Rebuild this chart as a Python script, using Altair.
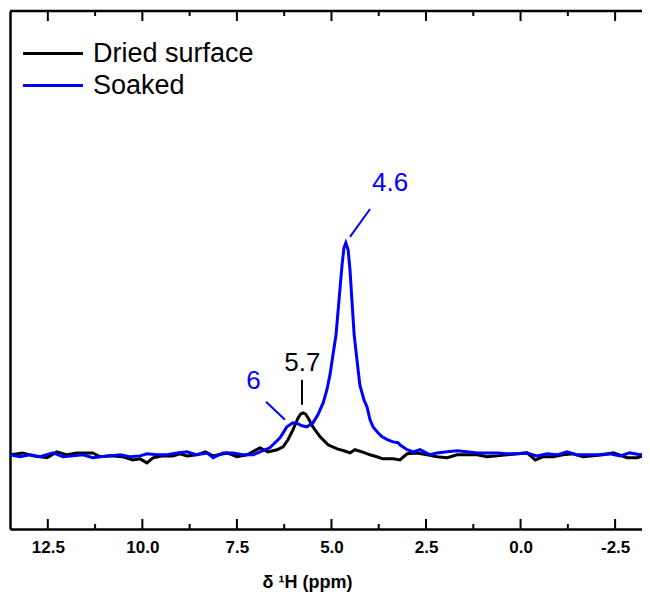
import altair as alt
import pandas as pd

# ---- data (ppm, intensity in a.u.; Soaked peak = 100) ----
dried_ppm = [13.50, 13.16, 12.89, 12.52, 12.26, 11.99, 11.73, 11.57, 11.31, 11.12, 10.86, 10.51,
             10.25, 10.06, 9.88, 9.72, 9.45, 9.19, 9.01, 8.82, 8.56, 8.34, 8.13, 7.76, 7.50, 7.23,
             6.89, 6.68, 6.44, 6.28, 6.15, 6.02, 5.88, 5.81, 5.75, 5.69, 5.62, 5.49, 5.30, 5.09, 4.85,
             4.67, 4.51, 4.38, 4.19, 3.98, 3.80, 3.64, 3.37, 3.19, 3.00, 2.74, 2.47, 2.21, 1.94,
             1.68, 1.42, 1.15, 0.89, 0.62, 0.36, 0.09, -0.17, -0.39, -0.60, -0.86, -1.12, -1.39,
             -1.65, -1.92, -2.18, -2.45, -2.82, -3.08, -3.34, -3.50]
dried_int = [0, 0.9, -0.5, -1.4, 1.4, 0, 0.9, 0.9, 0.9, -0.9, -0.5, -0.9,
             -2.4, -1.9, -3.8, -1.4, -0.5, -0.5, 0.5, -0.5, 0, 1.4, -0.5, 0.9, -0.9, 0,
             3.3, 1.4, 2.4, 3.8, 7.1, 11.8, 17.5, 19.3, 19.8, 19.3, 17.5, 13.2, 8.5, 4.7, 2.8,
             1.9, 0.9, 2.4, 1.4, 0, -0.9, -1.9, -1.9, -2.4, 0.5, 0.9, 0, -0.9, -1.4,
             0, 0, 0, -0.9, -0.5, 0, 0.5, 0.9, -2.4, -0.9, -0.9, 0, 0.5,
             -0.9, -0.5, 0, 0.9, -1.4, -1.4, 0, 0]

soaked_ppm = [13.50, 13.24, 12.97, 12.71, 12.36, 12.10, 11.83, 11.57, 11.31, 11.12, 10.86, 10.59,
              10.33, 10.06, 9.88, 9.61, 9.35, 9.08, 8.82, 8.56, 8.29, 8.13, 7.87, 7.60, 7.34, 7.07,
              6.89, 6.63, 6.36, 6.18, 6.02, 5.88, 5.78, 5.65, 5.49, 5.36, 5.22, 5.12, 5.04, 4.96,
              4.88, 4.80, 4.72, 4.67, 4.62, 4.56, 4.51, 4.46, 4.40, 4.32, 4.25, 4.14, 4.06, 3.98,
              3.90, 3.77, 3.66, 3.51, 3.37, 3.24, 3.19, 3.00, 2.84, 2.66, 2.39, 2.21, 1.94, 1.68,
              1.42, 1.15, 0.89, 0.62, 0.36, 0.09, -0.17, -0.43, -0.70, -0.96, -1.23, -1.49, -1.76,
              -2.02, -2.36, -2.63, -2.89, -3.16, -3.42, -3.50]
soaked_int = [0, -0.9, 0, -0.9, 0.9, -0.9, -0.5, 0, -1.4, -0.9, -0.5, 0,
              -0.9, -0.5, 0.5, 0, 0, 0.9, 1.4, 0, 0.9, -1.4, 0.9, 0.9, 0, 0,
              1.4, 3.3, 8.0, 13.2, 15.1, 14.6, 13.7, 13.2, 15.1, 18.9, 24.5, 30.7, 37.7, 47.2,
              56.6, 73.1, 89.6, 97.6, 100.0, 96.7, 87.3, 73.1, 56.6, 43.9, 33.0, 25.9, 22.6, 16.5,
              13.2, 10.4, 8.5, 7.1, 6.1, 5.7, 4.7, 2.4, 1.4, 2.4, 0, 0.9, 1.4, 1.9,
              1.4, 0.9, 0.9, 0.9, 0.5, 0.5, 0.9, -0.5, 0.5, 0, 1.4, 0, 0,
              0, 0.5, -0.5, 0.9, 0, 0.9, 0.5]

series_names = ["Dried surface", "Soaked"]
series_colors = ["#000000", "#0000ff"]

major_ticks = [12.5, 10.0, 7.5, 5.0, 2.5, 0.0, -2.5]
minor_ticks = [11.25, 8.75, 6.25, 3.75, 1.25, -1.25]

ann_labels = ["4.6", "5.7", "6"]
ann_colors = ["#0000ff", "#000000", "#0000ff"]
ann_text_ppm = [3.45, 5.77, 7.06]
ann_text_int = [128.3, 43.2, 34.7]
lead_ppm_a = [3.98, 5.78, 6.73]
lead_int_a = [116.0, 35.4, 25.0]
lead_ppm_b = [4.51, 5.78, 6.23]
lead_int_b = [102.8, 23.6, 16.5]

# ---- build tables ----
df = pd.concat([
    pd.DataFrame({"ppm": dried_ppm, "intensity": dried_int, "series": series_names[0]}),
    pd.DataFrame({"ppm": soaked_ppm, "intensity": soaked_int, "series": series_names[1]}),
])
ann_df = pd.DataFrame({"label": ann_labels, "c": ann_colors, "ppm": ann_text_ppm, "intensity": ann_text_int})
lead_df = pd.DataFrame({"c": ann_colors, "ppm": lead_ppm_a, "intensity": lead_int_a,
                        "ppm2": lead_ppm_b, "intensity2": lead_int_b})
major_df = pd.DataFrame({"ppm": major_ticks})
minor_df = pd.DataFrame({"ppm": minor_ticks})

W, H = 632, 518
FONT = "Liberation Sans"
xs = alt.Scale(domain=[13.5 - W / 37.82, 13.5], reverse=True, nice=False, zero=False)
ys = alt.Scale(domain=[-35, 209.4], nice=False, zero=False)

x_axis = alt.Axis(
    values=major_ticks, title="δ ¹H (ppm)", ticks=False, grid=False,
    labelExpr="datum.value < 0 ? '-' + format(-datum.value, '.1f') : format(datum.value, '.1f')",
    domain=True, domainColor="black", domainWidth=2.5,
    labelFont=FONT, labelFontSize=17, labelFontWeight="bold", labelColor="black",
    labelPadding=10, labelFlush=False,
    titleFont=FONT, titleFontSize=18, titleFontWeight="bold", titleColor="black",
    titleX=297, titleY=53, titleBaseline="middle", titleAlign="center")
y_axis = alt.Axis(domain=True, domainColor="black", domainWidth=2.5, labels=False, ticks=False,
                  grid=False, title=None)


def X():
    return alt.X("ppm:Q", scale=xs, axis=x_axis)


def Y():
    return alt.Y("intensity:Q", scale=ys, axis=y_axis)


lines = alt.Chart(df).mark_line(strokeWidth=3, clip=True).encode(
    x=X(), y=Y(),
    color=alt.Color("series:N", scale=alt.Scale(domain=series_names, range=series_colors),
                    legend=alt.Legend(title=None, orient="none", legendX=24.5, legendY=24,
                                      symbolType="M-1.765,0H1.765", symbolSize=1156,
                                      symbolStrokeWidth=3,
                                      labelFont=FONT, labelFontSize=27, labelColor="black",
                                      labelLimit=0, labelOffset=21.5, rowPadding=0, padding=0)),
)

leaders = alt.Chart(lead_df).mark_rule(strokeWidth=2).encode(
    x=X(), x2="ppm2:Q", y=Y(), y2="intensity2:Q",
    color=alt.Color("c:N", scale=None),
)

labels = alt.Chart(ann_df).mark_text(font=FONT, fontSize=26, align="center", baseline="middle").encode(
    x=X(), y=Y(), text="label:N", color=alt.Color("c:N", scale=None),
)


def tick_layer(d, y1, y2):
    return alt.Chart(d).mark_rule(color="black", strokeWidth=2).encode(
        x=X(), y=alt.value(y1), y2=alt.value(y2))


top_border = alt.Chart(pd.DataFrame({"a": [0]})).mark_rule(color="black", strokeWidth=2.5).encode(
    x=alt.value(0), x2=alt.value(W), y=alt.value(0))

chart = alt.layer(
    lines, leaders, labels,
    tick_layer(major_df, H, H - 10), tick_layer(minor_df, H, H - 5),
    tick_layer(major_df, 0, 10), tick_layer(minor_df, 0, 5),
    top_border,
).properties(
    width=W, height=H,
    autosize=alt.AutoSizeParams(type="none"),
    padding={"left": 2, "top": 3, "right": 0, "bottom": 75},
).configure_view(stroke=None)

chart.save("out.html", embed_options={"renderer": "svg", "actions": False})
